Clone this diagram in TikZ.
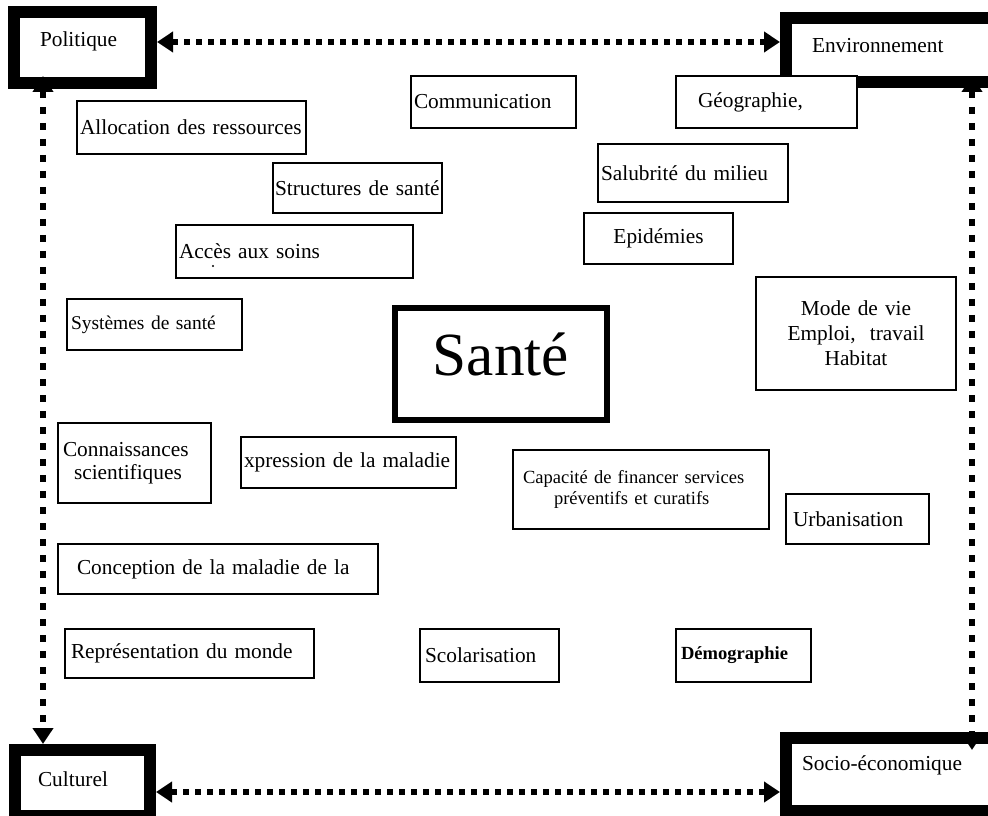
\documentclass[tikz,border=0pt]{standalone}
\usepackage{fontspec}
\setmainfont{Liberation Serif}
\usetikzlibrary{arrows.meta,calc}

\tikzset{every picture/.style={line width=0.75pt}}
\tikzset{
  coin/.style={draw, line width=9pt, anchor=north west, align=left, inner ysep=0pt, font=\fontsize{16}{19}\selectfont},
  boite/.style={draw, fill=white, line width=1.5pt, anchor=north west, align=left, inner ysep=0pt, font=\fontsize{16}{19}\selectfont},
  fleche/.style={line width=4.5pt, dash pattern=on 4.5pt off 4.5pt, >={Triangle[length=12pt,width=15pt]}, <->}
}

\begin{document}
\begin{tikzpicture}[x=0.75pt,y=0.75pt,yscale=-1,xscale=1]
            \useasboundingbox (0,0) rectangle (988,816);

            %Shape: Rectangle (coins)
            \node[coin, inner xsep=19.5pt, text width=63.75pt, minimum height=53.25pt, text depth=12pt] (pol) at (8,6) {Politique};
            \node[coin, inner xsep=19.5pt, text width=121.5pt, minimum height=48pt, text depth=6.5pt] (env) at (780,12) {Environnement};
            \node[coin, inner xsep=17.25pt, text width=66.75pt, minimum height=49.5pt, text depth=6.5pt] (cult) at (9,744) {Culturel};
            \node[coin, inner xsep=12pt, text width=136.5pt, minimum height=54.75pt, text depth=17.5pt] (socio) at (780,732) {Socio-économique};

            %Shape: Rectangle (centre)
            \node[boite, line width=4.5pt, align=center, inner sep=0pt, minimum width=159pt, minimum height=84pt, text depth=15pt, font=\fontsize{46}{50}\selectfont] (sante) at (392,305) {Santé};

            %Shape: Rectangle (facteurs)
            \node[boite, inner xsep=2.25pt, text width=167.25pt, minimum height=39.75pt] (alloc) at (76,100) {Allocation des ressources};
            \node[boite, inner xsep=2.25pt, text width=119.25pt, minimum height=39pt] (comm) at (410,75) {Communication};
            \node[boite, inner xsep=16.5pt, text width=102.75pt, minimum height=39pt] (geo) at (675,75) {Géographie,};
            \node[boite, inner xsep=2.25pt, text width=138pt, minimum height=43.5pt] (salub) at (597,143) {Salubrité du milieu};
            \node[boite, inner xsep=1.5pt, text width=123.75pt, minimum height=37.5pt] (struct) at (272,162) {Structures de santé};
            \node[boite, inner xsep=2.25pt, text width=173.25pt, minimum height=39.75pt] (acces) at (175,224) {Accès aux soins};
            \fill (213,266) circle (1.2);
            \node[boite, align=center, inner xsep=2.25pt, text width=107.25pt, minimum height=38.25pt] (epid) at (583,212) {Epidémies};
            \node[boite, inner xsep=3pt, text width=125.25pt, minimum height=38.25pt, font=\fontsize{14.6}{17}\selectfont] (sys) at (66,298) {Systèmes de santé};
            \node[boite, align=center, inner xsep=3.75pt, text width=142.5pt, minimum height=84.75pt, font=\fontsize{16}{18.75}\selectfont] (mode) at (755,276) {Mode de vie\\Emploi,~ travail\\Habitat};
            \node[boite, inner xsep=3.75pt, text width=107.25pt, minimum height=60pt, font=\fontsize{16}{17.25}\selectfont] (conn) at (57,422) {Connaissances\\\hspace*{8.25pt}scientifiques};
            \node[boite, inner xsep=2.25pt, text width=156.75pt, minimum height=38.25pt] (expr) at (240,436) {xpression de la maladie};
            \node[boite, inner xsep=7.5pt, text width=177pt, minimum height=59.25pt, font=\fontsize{13.9}{15.75}\selectfont] (capa) at (512,449) {Capacité de financer services\\\hspace*{23.25pt}préventifs et curatifs};
            \node[boite, inner xsep=5.25pt, text width=96.75pt, minimum height=37.5pt] (urban) at (785,493) {Urbanisation};
            \node[boite, inner xsep=14.25pt, text width=211.5pt, minimum height=37.5pt] (concep) at (57,543) {Conception de la maladie de la};
            \node[boite, inner xsep=4.5pt, text width=177.75pt, minimum height=36.75pt] (repr) at (64,628) {Représentation du monde};
            \node[boite, inner xsep=3.75pt, text width=96.75pt, minimum height=39.75pt] (scol) at (419,628) {Scolarisation};
            \node[boite, inner xsep=3.75pt, text width=93.75pt, minimum height=39.75pt, font=\fontsize{13.9}{16}\selectfont\bfseries] (demog) at (675,628) {Démographie};

            %Straight Lines (pointillés)
            \draw[fleche] ($(pol.north east)+(0,36)$) -- ($(env.north west)+(0,30)$);
            \draw[fleche] ($(cult.north east)+(0,48)$) -- ($(socio.north west)+(0,60)$);
            \draw[fleche, dash pattern=on 5.25pt off 6.75pt] ($(pol.south west)+(35,-13)$) -- ($(cult.north west)+(34,0)$);
            \draw[fleche, dash pattern=on 5.25pt off 6.75pt] ($(env.south west)+(192,-12)$) -- ($(socio.north west)+(192,18)$);
\end{tikzpicture}
\end{document}
